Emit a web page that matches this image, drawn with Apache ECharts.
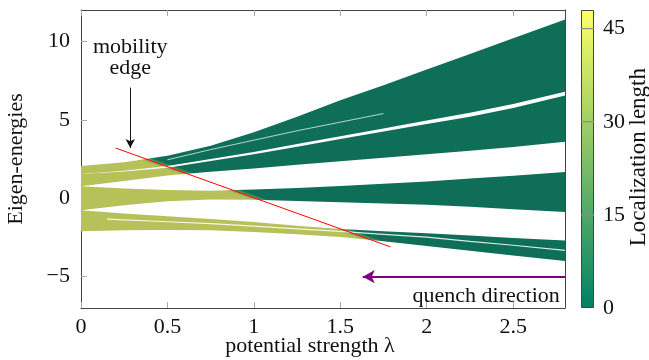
<!DOCTYPE html>
<html>
<head>
<meta charset="utf-8">
<script src="https://cdn.jsdelivr.net/npm/echarts@6/dist/echarts.min.js"></script>
<style>
  html, body { margin: 0; padding: 0; background: #fff; }
  #chart { width: 649px; height: 360px; }
</style>
</head>
<body>
<div id="chart"></div>
<script>
// potential strength samples (x) at which the band edges were read
const lam = [0, 0.25, 0.5, 0.75, 1, 1.25, 1.5, 1.75, 2, 2.25, 2.5, 2.8];

// band edges (eigen-energies)
const bandATop = [2.05, 2.3, 2.7, 3.35, 4.2, 5.2, 6.25, 7.2, 8.2, 9.2, 10.2, 11.4];
const bandABot = [1.55, 1.75, 2.05, 2.5, 2.95, 3.45, 3.95, 4.45, 4.95, 5.45, 6.0, 6.78];
const bandBTop = [1.55, 1.7, 1.95, 2.38, 2.8, 3.28, 3.77, 4.25, 4.73, 5.2, 5.75, 6.55];
const bandBBot = [0.77, 1.1, 1.45, 1.68, 1.9, 2.13, 2.35, 2.58, 2.8, 3.03, 3.27, 3.6];
const bandMTop = [0.77, 0.62, 0.52, 0.48, 0.55, 0.65, 0.78, 0.92, 1.07, 1.25, 1.44, 1.67];
const bandMBot = [-0.77, -0.45, -0.2, -0.08, -0.1, -0.17, -0.25, -0.33, -0.42, -0.55, -0.7, -0.88];
const bandLTop = [-0.77, -0.98, -1.15, -1.32, -1.52, -1.75, -1.97, -2.11, -2.24, -2.38, -2.53, -2.7];
const bandLBot = [-2.1, -2.05, -2.02, -2.05, -2.15, -2.3, -2.48, -2.75, -3.05, -3.35, -3.65, -4.0];

// thin gaps inside bands
const gapALam = [0.5, 0.75, 1, 1.25, 1.5, 1.75];
const gapAE = [2.45, 3.1, 3.7, 4.3, 4.85, 5.4];
const gapLLam = [0.15, 0.25, 0.5, 0.75, 1, 1.25, 1.5, 1.75, 2, 2.25, 2.5, 2.8];
const gapLE = [-1.33, -1.38, -1.5, -1.62, -1.78, -1.95, -2.12, -2.3, -2.48, -2.75, -3.0, -3.33];

// mobility edge (red line) and arrows
const edgeLine = [[0.2, 3.2], [1.79, -3.1]];
const edgeArrow = [[0.285, 7.05], [0.285, 3.2]];
const quenchArrow = [[2.8, -5], [1.63, -5]];

// tick labels
const xTicks = [0, 0.5, 1, 1.5, 2, 2.5];
const yTicks = [-5, 0, 5, 10];
const cbTicks = [0, 15, 30, 45];
const cbInnerTicks = [15, 30, 45];
const cbMax = 48;

const bands = [
  { top: bandATop, bot: bandABot },
  { top: bandBTop, bot: bandBBot },
  { top: bandMTop, bot: bandMBot },
  { top: bandLTop, bot: bandLBot }
];

const extColor = '#b7c159';
const midColor = '#7fa25a';
const locColor = '#0e6e58';
const FONT = 'Liberation Serif';

function fmtNum(v) {
  return String(v).replace('-', '\u2212');
}

function renderBand(params, api) {
  const b = bands[params.dataIndex];
  const pts = [];
  lam.forEach((l, i) => pts.push(api.coord([l, b.top[i]])));
  for (let i = lam.length - 1; i >= 0; i--) pts.push(api.coord([lam[i], b.bot[i]]));
  // colour switches across the mobility edge
  const p0 = api.coord(edgeLine[0]);
  const p1 = api.coord(edgeLine[1]);
  const dx = p1[0] - p0[0], dy = p1[1] - p0[1];
  const len = Math.hypot(dx, dy);
  const nx = dy / len, ny = -dx / len;
  const mx = (p0[0] + p1[0]) / 2, my = (p0[1] + p1[1]) / 2;
  const w = 3;
  const fill = new echarts.graphic.LinearGradient(
    mx - nx * w, my - ny * w, mx + nx * w, my + ny * w,
    [
      { offset: 0, color: extColor },
      { offset: 0.5, color: midColor },
      { offset: 1, color: locColor }
    ], true);
  return {
    type: 'polygon',
    shape: { points: pts },
    style: { fill: fill, stroke: null }
  };
}

// gray tick lines drawn across the colour bar
function renderCbTick(params, api) {
  const c = api.coord([0, api.value(1)]);
  const half = api.size([1, 0])[0] / 2;
  return {
    type: 'line',
    shape: { x1: c[0] - half, y1: c[1], x2: c[0] + half, y2: c[1] },
    style: { stroke: '#8c8c8c', lineWidth: 1.2 }
  };
}

const chart = echarts.init(document.getElementById('chart'), null, { renderer: 'canvas' });

const frame = { show: true, onZero: false, lineStyle: { color: '#444', width: 1 } };
const tickIn = { show: true, inside: true, length: 6, lineStyle: { color: '#aaa', width: 1 } };

const option = {
  animation: false,
  textStyle: { fontFamily: FONT },
  grid: [
    { left: 81, right: 84, top: 10, bottom: 52, outerBoundsMode: 'none', containLabel: false },
    { left: 581, width: 13, top: 10, bottom: 52, outerBoundsMode: 'none', containLabel: false }
  ],
  xAxis: [
    {
      type: 'value', gridIndex: 0, min: 0, max: 2.8, position: 'bottom',
      axisLine: frame,
      axisTick: Object.assign({ customValues: xTicks }, tickIn),
      splitLine: { show: false },
      axisLabel: { customValues: xTicks, formatter: fmtNum, color: '#111', fontSize: 22, margin: 8, fontFamily: FONT },
      name: 'potential strength \u03bb', nameLocation: 'middle', nameGap: 27, nameMoveOverlap: false,
      nameTextStyle: { fontSize: 22, color: '#111', fontFamily: FONT, padding: [0, 26, 0, 0] }
    },
    {
      type: 'value', gridIndex: 0, min: 0, max: 2.8, position: 'top',
      axisLine: frame,
      axisTick: Object.assign({ customValues: xTicks }, tickIn),
      axisLabel: { show: false },
      splitLine: { show: false }
    },
    {
      type: 'category', gridIndex: 1, data: ['cb'],
      axisLine: { show: false }, axisTick: { show: false },
      axisLabel: { show: false }, splitLine: { show: false }
    }
  ],
  yAxis: [
    {
      type: 'value', gridIndex: 0, min: -7, max: 12, position: 'left',
      axisLine: frame,
      axisTick: Object.assign({ customValues: yTicks }, tickIn),
      splitLine: { show: false },
      axisLabel: { customValues: yTicks, formatter: fmtNum, color: '#111', fontSize: 22, margin: 11, fontFamily: FONT },
      name: 'Eigen-energies', nameLocation: 'middle', nameGap: 54, nameRotate: 90, nameMoveOverlap: false,
      nameTextStyle: { fontSize: 22, color: '#111', fontFamily: FONT }
    },
    {
      type: 'value', gridIndex: 0, min: -7, max: 12, position: 'right',
      axisLine: frame,
      axisTick: Object.assign({ customValues: yTicks }, tickIn),
      axisLabel: { show: false },
      splitLine: { show: false }
    },
    {
      type: 'value', gridIndex: 1, min: 0, max: cbMax, position: 'right',
      axisLine: { show: false },
      axisTick: { show: false },
      splitLine: { show: false },
      axisLabel: { customValues: cbTicks, color: '#111', fontSize: 22, margin: 9, fontFamily: FONT }
    }
  ],
  graphic: [
    {
      type: 'text', left: 627, top: 68,
      rotation: Math.PI / 2, originX: 0, originY: 0,
      style: { text: 'Localization length', font: '23px "Liberation Serif"', fill: '#111' }
    }
  ],
  series: [
    {
      type: 'custom', xAxisIndex: 0, yAxisIndex: 0, silent: true, clip: true,
      renderItem: renderBand,
      data: bands.map((b, i) => [i])
    },
    {
      type: 'line', xAxisIndex: 0, yAxisIndex: 0, silent: true, symbol: 'none',
      lineStyle: { color: '#fff', width: 1, opacity: 0.7 },
      data: gapALam.map((l, i) => [l, gapAE[i]])
    },
    {
      type: 'line', xAxisIndex: 0, yAxisIndex: 0, silent: true, symbol: 'none',
      lineStyle: { color: '#fff', width: 1.2, opacity: 0.85 },
      data: gapLLam.map((l, i) => [l, gapLE[i]])
    },
    {
      type: 'line', xAxisIndex: 0, yAxisIndex: 0, silent: true, symbol: 'none',
      lineStyle: { color: '#ff0000', width: 1 },
      data: edgeLine
    },
    {
      type: 'line', xAxisIndex: 0, yAxisIndex: 0, silent: true, symbol: 'none',
      lineStyle: { opacity: 0 },
      data: [],
      markLine: {
        silent: true, animation: false,
        symbol: ['none', 'arrow'],
        label: { show: false },
        data: [
          [
            { coord: edgeArrow[0], symbolSize: [7, 9], lineStyle: { color: '#111', width: 1, type: 'solid' } },
            { coord: edgeArrow[1], symbolSize: [7, 9] }
          ],
          [
            { coord: quenchArrow[0], lineStyle: { color: '#800080', width: 2, type: 'solid' } },
            { coord: quenchArrow[1], symbolSize: [10, 12] }
          ]
        ]
      }
    },
    {
      type: 'scatter', xAxisIndex: 0, yAxisIndex: 0, silent: true, symbolSize: 0,
      itemStyle: { opacity: 1 },
      data: [[0.285, 8.97]],
      label: {
        show: true, position: 'inside', formatter: 'mobility\nedge',
        fontSize: 22, lineHeight: 21, color: '#111', fontFamily: FONT
      }
    },
    {
      type: 'scatter', xAxisIndex: 0, yAxisIndex: 0, silent: true, symbolSize: 0,
      itemStyle: { opacity: 1 },
      data: [[2.77, -6.25]],
      label: {
        show: true, position: 'left', distance: 0, formatter: 'quench direction',
        fontSize: 22, color: '#111', fontFamily: FONT
      }
    },
    {
      type: 'bar', xAxisIndex: 2, yAxisIndex: 2, silent: true, barWidth: '100%',
      data: [cbMax],
      itemStyle: {
        color: new echarts.graphic.LinearGradient(0, 1, 0, 0, [
          { offset: 0, color: '#008066' },
          { offset: 1, color: '#ffff66' }
        ]),
        borderColor: '#444', borderWidth: 1
      }
    },
    {
      type: 'custom', xAxisIndex: 2, yAxisIndex: 2, silent: true, z: 5,
      renderItem: renderCbTick,
      data: cbInnerTicks.map(v => [0, v])
    }
  ]
};

chart.setOption(option);
</script>
</body>
</html>
